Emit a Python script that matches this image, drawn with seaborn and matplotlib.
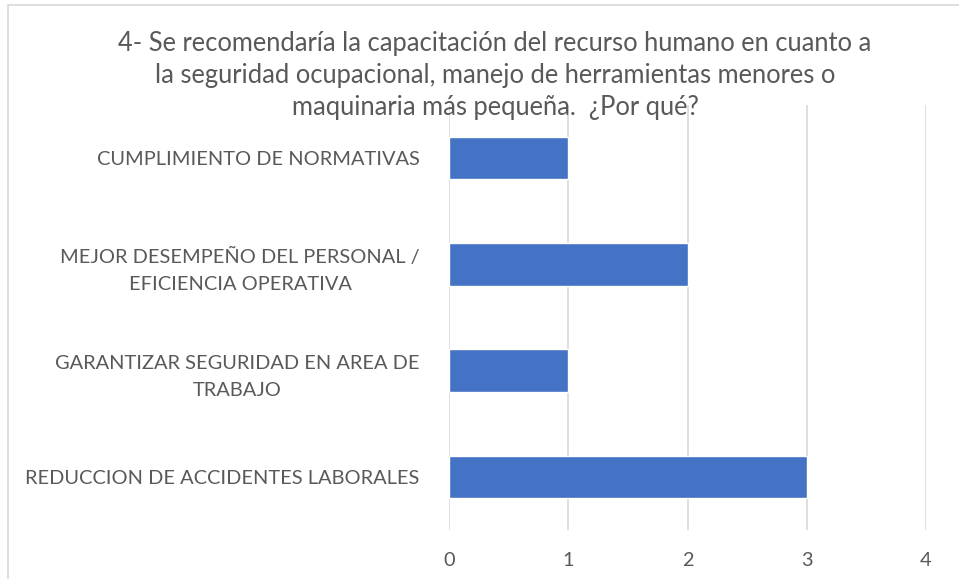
import matplotlib
matplotlib.use('Agg')
import matplotlib.pyplot as plt
import matplotlib.patches as mpatches
import seaborn as sns
import pandas as pd

# categories (top to bottom) and counts
categorias = [
    'CUMPLIMIENTO DE NORMATIVAS',
    'MEJOR DESEMPEÑO DEL PERSONAL /\nEFICIENCIA OPERATIVA',
    'GARANTIZAR SEGURIDAD EN AREA DE\nTRABAJO',
    'REDUCCION DE ACCIDENTES LABORALES',
]
valores = [1, 2, 1, 3]
ticks_x = [0, 1, 2, 3, 4]

titulo = ('4- Se recomendaría la capacitación del recurso humano en cuanto a\n'
          'la seguridad ocupacional, manejo de herramientas menores o\n'
          'maquinaria más pequeña.  ¿Por qué?')

sns.set_theme(style='white')
plt.rcParams['font.family'] = ['Lato', 'DejaVu Sans']

df = pd.DataFrame({'Categoria': categorias, 'Valor': valores})

fig = plt.figure(figsize=(9.59, 5.79), dpi=100)
ax = fig.add_axes([449 / 959, 1 - 530 / 579, (926 - 449) / 959, (530 - 105) / 579])

# light chart border (only top/left visible in the reference crop)
fig.patches.append(mpatches.Rectangle((8 / 959, -0.1), 1.2, 1 - 5 / 579 + 0.1,
                                      transform=fig.transFigure, fill=False,
                                      edgecolor='#D9D9D9', linewidth=1.2))

sns.barplot(data=df, x='Valor', y='Categoria', color='#4472C4', width=0.4,
            saturation=1, ax=ax, zorder=3)

ax.set_xlim(0, 4)
ax.set_xticks(ticks_x)
ax.grid(axis='x', color='#D9D9D9', linewidth=1.2, zorder=0)
ax.grid(axis='y', visible=False)
for s in ax.spines.values():
    s.set_visible(False)
ax.set_xlabel('')
ax.set_ylabel('')
ax.tick_params(axis='x', length=0, pad=16, labelsize=14.4, labelcolor='#595959')
ax.tick_params(axis='y', length=0, pad=21, labelsize=14.4, labelcolor='#595959')
for lbl in ax.get_yticklabels():
    lbl.set_multialignment('center')
    lbl.set_linespacing(1.72)

fig.text(495 / 959, 1 - 31 / 579, titulo, ha='center', va='top', fontsize=18.4,
         color='#595959', linespacing=1.35)

fig.savefig('out.png', dpi=100)
